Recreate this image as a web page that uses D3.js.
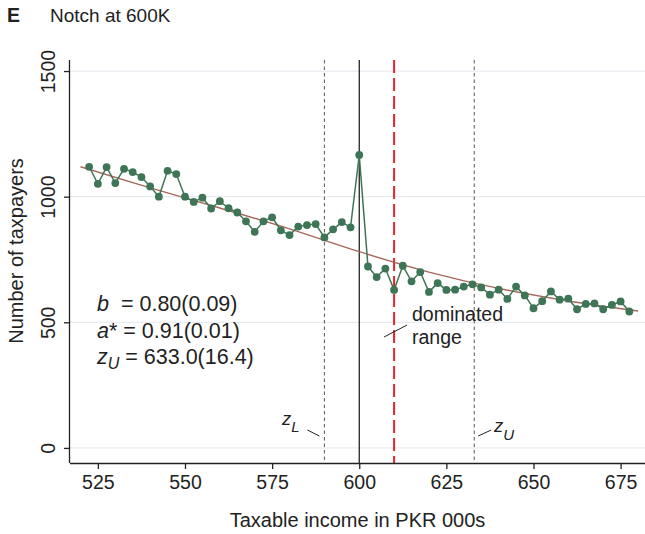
<!DOCTYPE html>
<html>
<head>
<meta charset="utf-8">
<script src="https://cdn.jsdelivr.net/npm/d3@7"></script>
<style>
  html, body { margin: 0; padding: 0; background: #fff; }
  svg { display: block; font-family: "Liberation Sans", Arial, Helvetica, sans-serif; }
</style>
</head>
<body>
<svg id="chart" width="645" height="534"></svg>
<script>
// Income bins (PKR 000s), 2.5K wide
const income = [
  522.5, 525, 527.5, 530, 532.5, 535, 537.5, 540, 542.5, 545,
  547.5, 550, 552.5, 555, 557.5, 560, 562.5, 565, 567.5, 570,
  572.5, 575, 577.5, 580, 582.5, 585, 587.5, 590, 592.5, 595,
  597.5, 600, 602.5, 605, 607.5, 610, 612.5, 615, 617.5, 620,
  622.5, 625, 627.5, 630, 632.5, 635, 637.5, 640, 642.5, 645,
  647.5, 650, 652.5, 655, 657.5, 660, 662.5, 665, 667.5, 670,
  672.5, 675, 677.5
];
// Observed number of taxpayers per bin
const taxpayers = [
  1119, 1051, 1118, 1054, 1111, 1098, 1078, 1041, 1000, 1103,
  1090, 1000, 979, 996, 953, 982, 954, 937, 902, 860,
  902, 918, 866, 847, 881, 887, 891, 838, 870, 899,
  878, 1166, 722, 680, 714, 629, 725, 663, 700, 621,
  656, 629, 630, 642, 651, 639, 610, 630, 593, 642,
  607, 556, 584, 623, 590, 594, 552, 573, 575, 552,
  569, 583, 543
];
// Counterfactual density
const cfIncome = [520, 540, 560, 580, 600, 620, 640, 660, 680];
const cfCount  = [1119, 1035, 955, 872, 781, 700, 635, 585, 545];

const xTicks = [525, 550, 575, 600, 625, 650, 675];
const yTicks = [0, 500, 1000, 1500];

// Reference lines: z_L, notch, dominated-range end, z_U
const zL = 590, notch = 600, domEnd = 610, zU = 633;

const svg = d3.select("#chart");
const pLeft = 70, pRight = 645, pTop = 60, pBottom = 463;
const ink = "#222";

const x = d3.scaleLinear().domain([517, 682]).range([pLeft, pRight]);
const y = d3.scaleLinear().domain([-60, 1544]).range([pBottom, pTop]);

// Horizontal grid
svg.append("g").selectAll("line").data(yTicks).join("line")
  .attr("x1", pLeft).attr("x2", pRight)
  .attr("y1", d => y(d)).attr("y2", d => y(d))
  .attr("stroke", "#e7ecf1").attr("stroke-width", 1.2);

// Vertical reference lines
const vline = (v, color, width, dash) => svg.append("line")
  .attr("x1", x(v)).attr("x2", x(v)).attr("y1", pTop).attr("y2", pBottom)
  .attr("stroke", color).attr("stroke-width", width)
  .attr("stroke-dasharray", dash);
vline(zL, "#555", 1, "3.5,3");
vline(zU, "#555", 1, "3.5,3");
vline(notch, "#111", 1.2, null);
vline(domEnd, "#e8232b", 2, "13,5");

// Axes
const xAxis = d3.axisBottom(x).tickValues(xTicks).tickSize(6).tickPadding(6).tickFormat(d3.format("d"));
const gx = svg.append("g").attr("transform", `translate(0,${pBottom})`).call(xAxis);
gx.select(".domain").attr("d", `M${pLeft},0.5H${pRight}`).attr("stroke", ink).attr("stroke-width", 1.3);
gx.selectAll(".tick line").attr("stroke", ink).attr("stroke-width", 1.3);
gx.selectAll(".tick text").attr("font-size", 19.5).attr("fill", ink)
  .attr("font-family", "Liberation Sans, Arial, sans-serif");

const yAxis = d3.axisLeft(y).tickValues(yTicks).tickSize(6).tickFormat(d3.format("d"));
const gy = svg.append("g").attr("transform", `translate(${pLeft},0)`).call(yAxis);
gy.select(".domain").attr("d", `M-0.5,${pTop}V${pBottom}`).attr("stroke", ink).attr("stroke-width", 1.3);
gy.selectAll(".tick line").attr("stroke", ink).attr("stroke-width", 1.3);
gy.selectAll(".tick text")
  .attr("font-size", 19.5).attr("fill", ink)
  .attr("font-family", "Liberation Sans, Arial, sans-serif")
  .attr("text-anchor", "middle").attr("dy", null).attr("x", null)
  .attr("transform", "translate(-15,0) rotate(-90)");

// Counterfactual fit
const pts = income.map((v, i) => [v, taxpayers[i]]);
svg.append("path")
  .datum(cfIncome.map((v, i) => [v, cfCount[i]]))
  .attr("fill", "none").attr("stroke", "#a7685a").attr("stroke-width", 1.4)
  .attr("d", d3.line().x(d => x(d[0])).y(d => y(d[1])).curve(d3.curveMonotoneX));

// Observed series
svg.append("path").datum(pts)
  .attr("fill", "none").attr("stroke", "#3e7556").attr("stroke-width", 1.5)
  .attr("d", d3.line().x(d => x(d[0])).y(d => y(d[1])));
svg.append("g").selectAll("circle").data(pts).join("circle")
  .attr("cx", d => x(d[0])).attr("cy", d => y(d[1])).attr("r", 3.9)
  .attr("fill", "#3e7556");

// Titles
svg.append("text").attr("x", 7).attr("y", 22).attr("font-size", 19.5)
  .attr("font-weight", "bold").attr("fill", ink).text("E");
svg.append("text").attr("x", 50).attr("y", 22).attr("font-size", 19)
  .attr("fill", ink).text("Notch at 600K");
svg.append("text").attr("x", (pLeft + pRight) / 2).attr("y", 527)
  .attr("text-anchor", "middle").attr("font-size", 20).attr("fill", ink)
  .text("Taxable income in PKR 000s");
svg.append("text").attr("transform", `translate(23,251) rotate(-90)`)
  .attr("text-anchor", "middle").attr("font-size", 20).attr("fill", ink)
  .text("Number of taxpayers");

// Estimates
const stats = [
  { lab: "b", sub: null, star: false, val: "  = 0.80(0.09)" },
  { lab: "a", sub: null, star: true, val: " = 0.91(0.01)" },
  { lab: "z", sub: "U", star: false, val: " = 633.0(16.4)" }
];
stats.forEach((s, i) => {
  const yy = 311 + i * 26.5;
  const t = svg.append("text").attr("x", 97).attr("y", yy)
    .attr("font-size", 21.5).attr("fill", ink).style("white-space", "pre");
  t.append("tspan").attr("font-style", "italic").text(s.lab);
  if (s.star) t.append("tspan").text("*");
  if (s.sub) {
    t.append("tspan").attr("font-style", "italic").attr("font-size", 16).attr("dy", 5).text(s.sub);
    t.append("tspan").attr("dy", -5).text(s.val);
  } else {
    t.append("tspan").text(s.val);
  }
});

// Annotations
svg.append("text").attr("x", 412).attr("y", 321).attr("font-size", 19.5).attr("fill", ink).text("dominated");
svg.append("text").attr("x", 412).attr("y", 344).attr("font-size", 19.5).attr("fill", ink).text("range");
svg.append("line").attr("x1", x(domEnd) - 10).attr("y1", 337).attr("x2", x(domEnd) + 13).attr("y2", 325)
  .attr("stroke", ink).attr("stroke-width", 1);

const zlab = svg.append("text").attr("x", 282).attr("y", 425).attr("font-size", 18.5).attr("fill", ink);
zlab.append("tspan").attr("font-style", "italic").text("z");
zlab.append("tspan").attr("font-style", "italic").attr("font-size", 15).attr("dy", 6.5).text("L");
svg.append("line").attr("x1", x(zL) - 17).attr("y1", 430).attr("x2", x(zL) - 5).attr("y2", 436)
  .attr("stroke", ink).attr("stroke-width", 1);

const zulab = svg.append("text").attr("x", 494).attr("y", 432).attr("font-size", 18.5).attr("fill", ink);
zulab.append("tspan").attr("font-style", "italic").text("z");
zulab.append("tspan").attr("font-style", "italic").attr("font-size", 15).attr("dy", 7.5).text("U");
svg.append("line").attr("x1", x(zU) + 4).attr("y1", 436).attr("x2", x(zU) + 17).attr("y2", 430)
  .attr("stroke", ink).attr("stroke-width", 1);
</script>
</body>
</html>
